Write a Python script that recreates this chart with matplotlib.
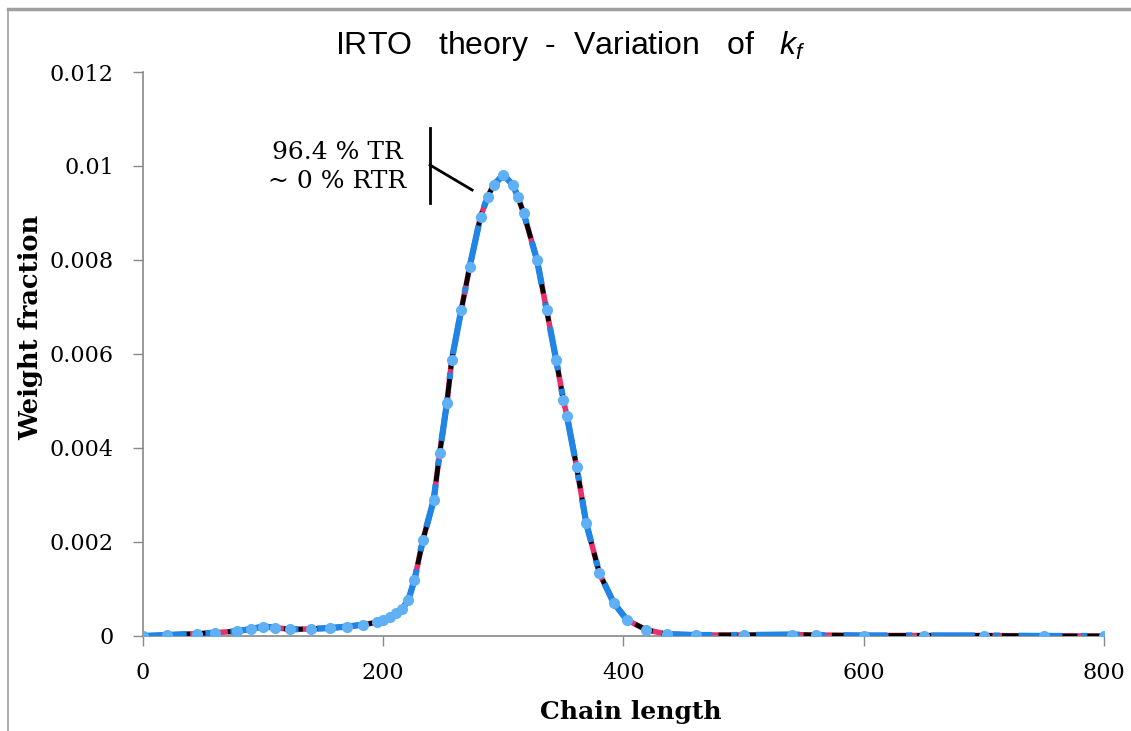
import matplotlib
matplotlib.use("Agg")
import matplotlib.pyplot as plt
from matplotlib import font_manager
from matplotlib.lines import Line2D

# chain length vs weight fraction
chain_length = [0, 20, 45, 60, 78, 90, 100, 110, 122, 140, 156, 170, 183, 195, 200,
                206, 211, 216, 221, 226, 233, 242, 247, 253, 257, 265, 272, 281,
                287, 292, 300, 308, 312, 317, 328, 336, 344, 350, 353, 361, 369,
                380, 392, 403, 419, 436, 460, 500, 540, 560, 600, 650, 700, 750, 800]
weight_fraction = [0.0, 0.00002, 0.00005, 0.00007, 0.0001, 0.00015, 0.0002, 0.00018,
                   0.00014, 0.00015, 0.00017, 0.0002, 0.00024, 0.00029, 0.00034,
                   0.0004, 0.00048, 0.00058, 0.00077, 0.00119, 0.00204, 0.00289,
                   0.00389, 0.00495, 0.00587, 0.00694, 0.00786, 0.00892, 0.00935,
                   0.0096, 0.00981, 0.0096, 0.00935, 0.00899, 0.0080, 0.00694,
                   0.00587, 0.00502, 0.00467, 0.0036, 0.0024, 0.00133, 0.0007,
                   0.00034, 0.00013, 0.00004, 0.00002, 0.00002, 0.00003, 0.00002,
                   0.00001, 0.00001, 0.00001, 0.0, 0.0]

x_ticks = [0, 200, 400, 600, 800]
y_ticks = [0, 0.002, 0.004, 0.006, 0.008, 0.01, 0.012]
y_tick_labels = ['0', '0.002', '0.004', '0.006', '0.008', '0.01', '0.012']

available = {f.name for f in font_manager.fontManager.ttflist}
narrow = 'Liberation Sans Narrow' if 'Liberation Sans Narrow' in available else 'Liberation Sans'
plt.rcParams['font.family'] = ['DejaVu Serif']
plt.rcParams['mathtext.fontset'] = 'custom'
plt.rcParams['mathtext.it'] = narrow + ':italic'

fig = plt.figure(figsize=(11.31, 7.31), dpi=100)
ax = fig.add_axes([0.1264, 0.130, 0.8497, 0.7715])

# outer frame lines of the screenshot
fig.add_artist(Line2D([8 / 1131, 1], [1 - 9 / 731, 1 - 9 / 731], color='#a0a0a0', lw=2.5,
                      transform=fig.transFigure))
fig.add_artist(Line2D([8 / 1131, 8 / 1131], [0, 1 - 9 / 731], color='#a0a0a0', lw=1.2,
                      transform=fig.transFigure))

ax.plot(chain_length, weight_fraction, color='#e8306a', lw=4, zorder=2)
ax.plot(chain_length, weight_fraction, color='black', lw=3.4, ls=(0, (4, 2)), zorder=3)
ax.plot(chain_length, weight_fraction, color='#1f86e6', lw=4.5, ls=(0, (7, 3, 1, 3)), zorder=4)
ax.plot(chain_length, weight_fraction, ls='none', marker='o', ms=7, mfc='#5fb0f5',
        mec='#5fb0f5', zorder=5)

ax.set_xlim(0, 800)
ax.set_ylim(0, 0.012)
ax.set_xticks(x_ticks)
ax.set_yticks(y_ticks)
ax.set_yticklabels(y_tick_labels)
ax.tick_params(axis='both', direction='out', length=7, width=1, color='#888888',
               labelsize=16)
ax.tick_params(axis='y', pad=14)
ax.tick_params(axis='x', pad=12)
for side in ['top', 'right']:
    ax.spines[side].set_visible(False)
for side in ['left', 'bottom']:
    ax.spines[side].set_color('#888888')
    ax.spines[side].set_linewidth(1.2)

ax.set_xlabel('Chain length', fontsize=18, fontweight='bold')
ax.xaxis.set_label_coords(0.508, -0.113)
ax.set_ylabel('Weight fraction', fontsize=18.5, fontweight='bold')
ax.yaxis.set_label_coords(-0.104, 0.548)
fig.text(0.504, 0.937, 'IRTO   theory  -  Variation   of   $k_f$', ha='center', va='center',
         fontsize=23, family=narrow)

ax.text(219, 0.00998, '96.4 % TR\n~ 0 % RTR', ha='right', va='center',
        multialignment='center', fontsize=18, linespacing=1.3)
ax.plot([239, 239], [0.01081, 0.00921], color='black', lw=2, clip_on=False)
ax.plot([239, 274], [0.01002, 0.00949], color='black', lw=2, clip_on=False)

fig.savefig('out.png', dpi=100)
